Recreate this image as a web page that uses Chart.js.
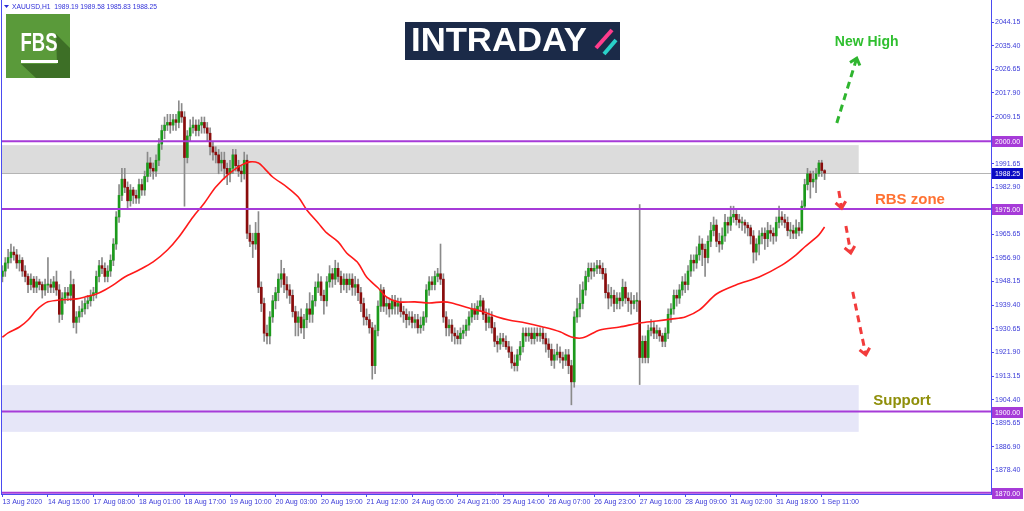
<!DOCTYPE html>
<html>
<head>
<meta charset="utf-8">
<script src="https://cdn.jsdelivr.net/npm/chart.js@4.4.1/dist/chart.umd.min.js"></script>
<style>
  html, body { margin: 0; padding: 0; background: #fff; }
  #wrap { width: 1024px; height: 511px; }
</style>
</head>
<body>
<div id="wrap"><canvas id="myChart"></canvas></div>
<script>
// XAUUSD H1, 13 Aug 22:00 -> 1 Sep 12:00
const tickLabels = ['13 Aug 2020', '14 Aug 15:00', '17 Aug 08:00', '18 Aug 01:00', '18 Aug 17:00', '19 Aug 10:00',
  '20 Aug 03:00', '20 Aug 19:00', '21 Aug 12:00', '24 Aug 05:00', '24 Aug 21:00', '25 Aug 14:00',
  '26 Aug 07:00', '26 Aug 23:00', '27 Aug 16:00', '28 Aug 09:00', '31 Aug 02:00', '31 Aug 18:00', '1 Sep 11:00'];

const opens = [
  1950,1952,1955,1957,1959,1958,1955,1956,1952,1950,1947,1949,1946,1948,1947,1945,
  1947,1947,1946,1948,1945,1936,1942,1944,1943,1947,1933,1935,1937,1938,1940,1941,
  1943,1944,1950,1954,1953,1950,1952,1956,1962,1972,1980,1986,1983,1978,1982,1980,
  1979,1984,1982,1987,1992,1990,1989,1993,1999,2004,2006,2007,2006,2008,2007,2011,
  2009,1994,2002,2005,2006,2004,2006,2007,2005,2003,1998,1996,1995,1992,1993,1990,
  1988,1990,1995,1991,1989,1988,1993,1966,1963,1962,1966,1946,1940,1929,1928,1935,
  1941,1944,1949,1951,1947,1945,1943,1937,1933,1935,1931,1934,1938,1936,1941,1946,
  1948,1943,1941,1948,1951,1949,1953,1950,1947,1949,1947,1949,1946,1947,1944,1940,
  1935,1934,1931,1917,1930,1939,1945,1939,1940,1938,1941,1939,1940,1937,1936,1934,
  1935,1933,1934,1931,1932,1935,1945,1948,1947,1950,1951,1949,1935,1931,1932,1929,
  1928,1927,1929,1930,1932,1935,1938,1936,1939,1941,1936,1933,1935,1931,1926,1925,
  1927,1926,1924,1922,1918,1917,1921,1924,1929,1928,1929,1927,1929,1928,1929,1927,
  1925,1923,1919,1921,1922,1920,1919,1921,1917,1911,1935,1938,1940,1945,1950,1953,
  1952,1953,1954,1953,1951,1944,1942,1943,1940,1942,1941,1946,1942,1941,1940,1941,
  1941,1920,1926,1920,1930,1931,1929,1930,1928,1926,1929,1936,1938,1943,1942,1945,
  1948,1947,1952,1956,1955,1958,1962,1960,1957,1963,1967,1969,1963,1962,1965,1970,
  1969,1972,1973,1971,1970,1970,1969,1968,1965,1959,1962,1965,1966,1964,1967,1966,
  1965,1970,1972,1971,1970,1967,1967,1966,1968,1967,1976,1984,1988,1985,1986,1988,
  1992,1989.19
];
const highs = [
  1954,1957,1960,1962,1961,1960,1958,1957,1954,1951,1951,1950,1950,1949,1948,1949,
  1957,1949,1950,1952,1947,1944,1946,1946,1952,1949,1937,1939,1941,1942,1943,1945,
  1946,1952,1956,1957,1955,1954,1958,1964,1974,1984,1990,1990,1985,1984,1983,1982,
  1986,1986,1989,1996,1994,1992,1995,2001,2006,2009,2010,2010,2010,2010,2015,2014,
  2011,2004,2008,2009,2008,2008,2009,2009,2007,2005,2000,1998,1997,1996,1996,1992,
  1993,1997,1997,1993,1991,1996,1995,1969,1966,1970,1974,1948,1942,1932,1937,1943,
  1946,1951,1956,1953,1950,1947,1945,1939,1937,1938,1936,1940,1944,1943,1948,1951,
  1950,1945,1950,1954,1953,1956,1955,1952,1951,1951,1951,1951,1950,1949,1946,1942,
  1938,1936,1933,1932,1941,1947,1946,1942,1942,1943,1943,1942,1942,1939,1938,1937,
  1937,1936,1936,1935,1937,1947,1950,1950,1952,1953,1962,1951,1937,1934,1934,1931,
  1930,1931,1932,1934,1937,1940,1940,1941,1943,1942,1938,1938,1937,1933,1928,1929,
  1929,1928,1926,1924,1921,1923,1926,1931,1931,1931,1931,1931,1931,1931,1931,1929,
  1927,1925,1923,1925,1924,1922,1923,1923,1919,1937,1942,1947,1948,1952,1955,1955,
  1955,1956,1956,1955,1953,1947,1946,1945,1944,1944,1949,1948,1944,1944,1943,1944,
  1976.6,1928,1928,1932,1934,1933,1932,1931,1929,1931,1938,1940,1945,1945,1947,1950,
  1951,1954,1958,1958,1961,1965,1964,1962,1965,1970,1972,1971,1966,1968,1973,1972,
  1976,1976,1975,1973,1972,1971,1970,1969,1967,1964,1967,1968,1968,1970,1969,1968,
  1972,1976,1974,1973,1972,1970,1969,1971,1970,1978,1986,1990,1989,1989,1990,1993,
  1993,1989.58
];
const lows = [
  1948,1950,1953,1955,1956,1953,1952,1950,1948,1944,1945,1944,1944,1945,1942,1943,
  1944,1944,1944,1943,1933,1934,1940,1941,1941,1931,1929,1933,1935,1936,1938,1939,
  1941,1942,1948,1951,1948,1948,1950,1954,1960,1970,1978,1981,1975,1976,1977,1977,
  1977,1980,1980,1985,1987,1986,1987,1991,1997,2001,2004,2003,2004,2004,2005,2007,
  1976,1992,2000,2003,2002,2002,2003,2003,2000,1995,1993,1992,1988,1989,1986,1984,
  1985,1988,1989,1987,1985,1986,1964,1961,1957,1960,1944,1937,1926,1925,1925,1933,
  1938,1941,1946,1944,1942,1940,1935,1928,1928,1929,1927,1931,1933,1933,1939,1944,
  1941,1936,1939,1946,1946,1947,1948,1944,1945,1944,1945,1943,1943,1941,1937,1932,
  1932,1929,1912,1914,1928,1937,1937,1936,1935,1936,1936,1936,1935,1933,1931,1932,
  1931,1931,1929,1929,1930,1933,1943,1945,1945,1948,1947,1933,1928,1928,1926,1925,
  1925,1925,1927,1928,1930,1933,1934,1934,1937,1934,1930,1931,1929,1924,1922,1923,
  1924,1923,1920,1916,1915,1915,1919,1922,1926,1926,1925,1925,1926,1926,1925,1922,
  1920,1917,1916,1919,1918,1916,1917,1914,1902.5,1909,1933,1935,1938,1943,1948,1949,
  1950,1951,1951,1949,1942,1938,1939,1937,1938,1938,1939,1940,1937,1936,1938,1937,
  1910,1918,1918,1918,1928,1927,1927,1926,1924,1924,1927,1933,1936,1939,1940,1943,
  1944,1945,1950,1952,1953,1956,1954,1950,1955,1961,1965,1961,1959,1960,1963,1966,
  1967,1970,1969,1968,1967,1966,1965,1962,1955,1956,1958,1962,1960,1961,1963,1962,
  1963,1968,1969,1968,1965,1964,1964,1964,1965,1966,1975,1982,1979,1983,1981,1987,
  1987,1985.83
];
const closes = [
  1952,1955,1957,1959,1958,1955,1956,1952,1950,1947,1949,1946,1948,1947,1945,1947,
  1947,1946,1948,1945,1936,1942,1944,1943,1947,1933,1935,1937,1938,1940,1941,1943,
  1944,1950,1954,1953,1950,1952,1956,1962,1972,1980,1986,1983,1978,1982,1980,1979,
  1984,1982,1987,1992,1990,1989,1993,1999,2004,2006,2007,2006,2008,2007,2011,2009,
  1994,2002,2005,2006,2004,2006,2007,2005,2003,1998,1996,1995,1992,1993,1990,1988,
  1990,1995,1991,1989,1988,1993,1966,1963,1962,1966,1946,1940,1929,1928,1935,1941,
  1944,1949,1951,1947,1945,1943,1937,1933,1935,1931,1934,1938,1936,1941,1946,1948,
  1943,1941,1948,1951,1949,1953,1950,1947,1949,1947,1949,1946,1947,1944,1940,1935,
  1934,1931,1917,1930,1939,1945,1939,1940,1938,1941,1939,1940,1937,1936,1934,1935,
  1933,1934,1931,1932,1935,1945,1948,1947,1950,1951,1949,1935,1931,1932,1929,1928,
  1927,1929,1930,1932,1935,1938,1936,1939,1941,1936,1933,1935,1931,1926,1925,1927,
  1926,1924,1922,1918,1917,1921,1924,1929,1928,1929,1927,1929,1928,1929,1927,1925,
  1923,1919,1921,1922,1920,1919,1921,1917,1911,1935,1938,1940,1945,1950,1953,1952,
  1953,1954,1953,1951,1944,1942,1943,1940,1942,1941,1946,1942,1941,1940,1941,1941,
  1920,1926,1920,1930,1931,1929,1930,1928,1926,1929,1936,1938,1943,1942,1945,1948,
  1947,1952,1956,1955,1958,1962,1960,1957,1963,1967,1969,1963,1962,1965,1970,1969,
  1972,1973,1971,1970,1970,1969,1968,1965,1959,1962,1965,1966,1964,1967,1966,1965,
  1970,1972,1971,1970,1967,1967,1966,1968,1967,1976,1984,1988,1985,1986,1988,1992,
  1989.2,1988.25
];

// red moving average, read at bar indexes
const maIdx = [0,2,6,9,12,14,16,20,26,29,33,36,39,43,48,53,58,62,67,71,75,80,84,87,90,92,95,100,104,107,111,114,118,121,125,128,
  132,135,139,145,150,155,158,164,169,174,178,184,190,196,200,204,210,217,224,230,235,240,245,251,258,266,274,279,282,287,289];
const maVal = [1927.5,1929.1,1931.3,1933.9,1937.6,1939.4,1940.6,1941.3,1941.7,1942.4,1943.5,1945.0,1946.9,1949.8,1952.4,1955.4,
  1959.8,1964.6,1972.0,1977.2,1983.1,1988.3,1991.2,1992.4,1992.0,1990.1,1986.8,1983.1,1979.4,1974.6,1969.8,1966.1,1962.8,1958.7,
  1955.0,1949.8,1945.8,1942.4,1940.6,1940.6,1940.2,1940.6,1940.2,1938.3,1936.9,1935.0,1933.9,1932.8,1931.3,1929.5,1927.6,1927.3,
  1930.2,1931.3,1932.8,1933.5,1934.2,1935.0,1937.6,1943.5,1946.9,1949.8,1954.2,1958.0,1960.9,1965.4,1968.3];

const yTicks = [2044.15, 2035.40, 2026.65, 2017.90, 2009.15, 1991.65, 1982.90, 1965.65, 1956.90, 1948.15,
  1939.40, 1930.65, 1921.90, 1913.15, 1904.40, 1895.65, 1886.90, 1878.40];
const levels = [2000, 1975, 1900, 1870];
const lastPrice = 1988.25;
const rbsZone = [1988.25, 1998.6];
const supportZone = [1892.5, 1909.8];
const zoneEnd = 301;
const slots = 348;

const AXIS = '#4b4bf0';
const PURPLE = '#a63bd8';
const FONT = '"Liberation Sans", Arial, sans-serif';

const labels = Array.from({ length: slots }, (_, i) => i);
const wickData = lows.map((l, i) => [l, highs[i]]);
const bodyData = opens.map((o, i) => (o === closes[i] ? [o - 0.2, o + 0.2] : [o, closes[i]]));
const bodyColors = opens.map((o, i) => (closes[i] >= o ? '#1c9a1c' : '#8a0c0c'));
const maData = new Array(closes.length).fill(null);
maIdx.forEach((x, k) => { maData[x] = maVal[k]; });

function dashedArrow(ctx, x1, y1, x2, y2, color) {
  ctx.save();
  ctx.strokeStyle = color;
  ctx.lineWidth = 3;
  ctx.setLineDash([7, 5]);
  ctx.beginPath(); ctx.moveTo(x1, y1); ctx.lineTo(x2, y2); ctx.stroke();
  ctx.setLineDash([]);
  const a = Math.atan2(y2 - y1, x2 - x1), h = 8;
  ctx.beginPath();
  ctx.moveTo(x2 - h * Math.cos(a - 0.7), y2 - h * Math.sin(a - 0.7));
  ctx.lineTo(x2, y2);
  ctx.lineTo(x2 - h * Math.cos(a + 0.7), y2 - h * Math.sin(a + 0.7));
  ctx.stroke();
  ctx.restore();
}

// squeeze a text to a given width (MT4 uses a narrow Tahoma)
function fitText(ctx, text, x, y, w) {
  const m = ctx.measureText(text).width;
  ctx.save();
  ctx.translate(x, y);
  ctx.scale(w / m, 1);
  ctx.fillText(text, 0, 0);
  ctx.restore();
}

const overlay = {
  id: 'overlay',
  beforeDatasetsDraw(chart) {
    const { ctx, chartArea: a, scales: { x, y } } = chart;
    const xr = x.getPixelForValue(zoneEnd);
    ctx.save();
    ctx.fillStyle = '#dcdcdc';
    ctx.fillRect(a.left, y.getPixelForValue(rbsZone[1]), xr - a.left, y.getPixelForValue(rbsZone[0]) - y.getPixelForValue(rbsZone[1]));
    ctx.fillStyle = '#e6e6f8';
    ctx.fillRect(a.left, y.getPixelForValue(supportZone[1]), xr - a.left, y.getPixelForValue(supportZone[0]) - y.getPixelForValue(supportZone[1]));
    ctx.strokeStyle = '#b4b4b4';
    ctx.lineWidth = 1;
    const yl = Math.round(y.getPixelForValue(lastPrice)) + 0.5;
    ctx.beginPath(); ctx.moveTo(a.left, yl); ctx.lineTo(a.right, yl); ctx.stroke();
    ctx.restore();
  },
  afterDatasetsDraw(chart) {
    const { ctx, chartArea: a, scales: { y } } = chart;
    ctx.save();
    ctx.strokeStyle = PURPLE;
    ctx.lineWidth = 2;
    levels.forEach(v => {
      const py = y.getPixelForValue(v);
      ctx.beginPath(); ctx.moveTo(a.left, py); ctx.lineTo(a.right, py); ctx.stroke();
    });
    ctx.strokeStyle = AXIS;
    ctx.lineWidth = 1;
    ctx.beginPath(); ctx.moveTo(a.left + 0.5, a.top); ctx.lineTo(a.left + 0.5, a.bottom); ctx.stroke();
    ctx.restore();
  },
  afterDraw(chart) {
    const { ctx, chartArea: a, scales: { x, y } } = chart;
    ctx.save();
    // price tags on the right axis
    ctx.font = '8px ' + FONT;
    ctx.textBaseline = 'middle';
    ctx.textAlign = 'left';
    const tag = (v, bg) => {
      const py = Math.round(y.getPixelForValue(v));
      ctx.fillStyle = bg;
      ctx.fillRect(a.right + 1, py - 5, 31, 11);
      ctx.fillStyle = '#ffffff';
      fitText(ctx, v.toFixed(2), a.right + 4, py + 0.5, 25);
    };
    levels.forEach(v => tag(v, PURPLE));
    tag(lastPrice, '#0b0bc4');

    // header
    ctx.fillStyle = '#2d2dd8';
    ctx.beginPath(); ctx.moveTo(4, 5); ctx.lineTo(9, 5); ctx.lineTo(6.5, 8); ctx.closePath(); ctx.fill();
    ctx.font = '8px ' + FONT;
    fitText(ctx, 'XAUUSD,H1  1989.19 1989.58 1985.83 1988.25', 12, 7, 145);

    // FBS logo
    ctx.fillStyle = '#5a9a3a';
    ctx.fillRect(6, 14, 64, 64);
    ctx.fillStyle = '#3d6f26';
    ctx.beginPath();
    ctx.moveTo(56, 34); ctx.lineTo(70, 48); ctx.lineTo(70, 78); ctx.lineTo(36, 78);
    ctx.lineTo(21, 64); ctx.lineTo(57, 64); ctx.closePath(); ctx.fill();
    ctx.fillStyle = '#ffffff';
    ctx.save();
    ctx.translate(39, 44);
    ctx.scale(0.74, 1);
    ctx.font = 'bold 25px ' + FONT;
    ctx.textAlign = 'center';
    ctx.fillText('FBS', 0, 0);
    ctx.restore();
    ctx.fillRect(21, 60, 37, 3);

    // INTRADAY logo
    ctx.fillStyle = '#1b2a48';
    ctx.fillRect(405, 22, 215, 38);
    ctx.fillStyle = '#ffffff';
    ctx.font = 'bold 33px ' + FONT;
    fitText(ctx, 'INTRADAY', 411, 42, 176);
    ctx.lineWidth = 4;
    ctx.strokeStyle = '#ff3c8c';
    ctx.beginPath(); ctx.moveTo(596, 48); ctx.lineTo(612, 30); ctx.stroke();
    ctx.strokeStyle = '#2ad0c8';
    ctx.beginPath(); ctx.moveTo(604, 54); ctx.lineTo(616, 40); ctx.stroke();

    // annotations
    const px = v => x.getPixelForValue(v);
    const py = v => y.getPixelForValue(v);
    ctx.textAlign = 'center';
    ctx.font = 'bold 14px ' + FONT;
    ctx.fillStyle = '#2fbf2f';
    ctx.fillText('New High', px(303.8), py(2036.8));
    dashedArrow(ctx, px(293.3), py(2006.8), px(300.3), py(2030.8), '#2fb52f');
    ctx.font = 'bold 15px ' + FONT;
    ctx.fillStyle = '#ff7233';
    ctx.fillText('RBS zone', px(319), py(1978.3));
    ctx.fillStyle = '#8f8f0a';
    ctx.fillText('Support', px(316.2), py(1903.9));
    dashedArrow(ctx, px(294), py(1981.6), px(295), py(1975.3), '#f23c3c');
    dashedArrow(ctx, px(296.5), py(1968.7), px(298.2), py(1958.7), '#f23c3c');
    dashedArrow(ctx, px(298.9), py(1944.3), px(303.5), py(1921.0), '#f23c3c');
    ctx.restore();
  }
};

const ctx = document.getElementById('myChart');

new Chart(ctx, {
  type: 'bar',
  data: {
    labels: labels,
    datasets: [
      {
        type: 'line',
        label: 'MA',
        data: maData,
        borderColor: '#ff1a1a',
        borderWidth: 1.6,
        pointRadius: 0,
        tension: 0.3,
        spanGaps: true,
        order: 0
      },
      {
        label: 'body',
        data: bodyData,
        backgroundColor: bodyColors,
        barThickness: 2,
        grouped: false,
        borderWidth: 0,
        order: 1
      },
      {
        label: 'wick',
        data: wickData,
        backgroundColor: '#8a8a8a',
        barThickness: 1,
        grouped: false,
        borderWidth: 0,
        order: 2
      }
    ]
  },
  options: {
    responsive: true,
    maintainAspectRatio: false,
    animation: false,
    layout: { padding: { left: 1, right: 0, top: 0, bottom: 0 } },
    plugins: { legend: { display: false }, tooltip: { enabled: false } },
    scales: {
      x: {
        type: 'category',
        offset: true,
        grid: { drawOnChartArea: false, offset: false, tickLength: 3, color: AXIS },
        border: { color: AXIS },
        ticks: {
          autoSkip: false,
          maxRotation: 0,
          align: 'start',
          padding: 1,
          color: '#3a3ad8',
          font: { family: FONT, size: 7 },
          callback: v => tickLabels[v / 16]
        },
        afterBuildTicks: s => {
          s.ticks = s.ticks.filter(t => t.value % 16 === 0 && t.value / 16 < tickLabels.length);
        },
        afterFit: s => { s.height = 17; s.paddingLeft = 0; s.paddingRight = 0; }
      },
      y: {
        position: 'right',
        min: 1869.5,
        max: 2052.3,
        grid: { drawOnChartArea: false, tickLength: 3, color: AXIS },
        border: { color: AXIS },
        ticks: {
          padding: 1,
          color: '#3a3ad8',
          font: { family: FONT, size: 7 },
          callback: v => v.toFixed(2)
        },
        afterBuildTicks: s => { s.ticks = yTicks.map(v => ({ value: v })); },
        afterFit: s => { s.width = 33; s.paddingTop = 0; s.paddingBottom = 0; }
      }
    }
  },
  plugins: [overlay]
});
</script>
</body>
</html>
